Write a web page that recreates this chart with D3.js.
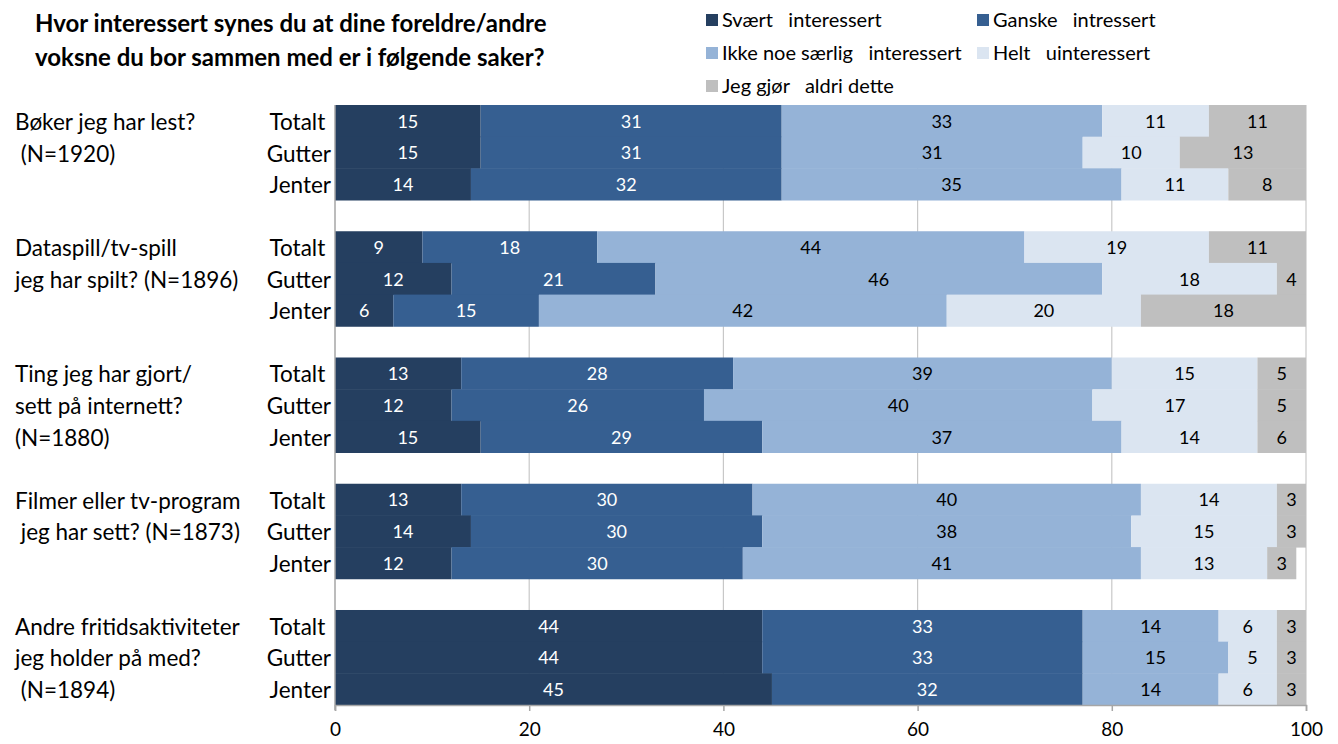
<!DOCTYPE html>
<html>
<head>
<meta charset="utf-8">
<script src="https://cdn.jsdelivr.net/npm/d3@7"></script>
<style>
  html, body { margin: 0; padding: 0; background: #fff; }
  svg { display: block; }
  text { font-family: Lato, "Liberation Sans", Arial, sans-serif; white-space: pre; }
</style>
</head>
<body>
<svg id="chart" width="1338" height="744"></svg>
<script>
// Survey answers in percent, three rows (Totalt, Gutter, Jenter) per question
const questions = [
  ["Bøker jeg har lest?", " (N=1920)"],
  ["Dataspill/tv-spill", "jeg har spilt? (N=1896)"],
  ["Ting jeg har gjort/", "sett på internett?", "(N=1880)"],
  ["Filmer eller tv-program", " jeg har sett? (N=1873)"],
  ["Andre fritidsaktiviteter", "jeg holder på med?", " (N=1894)"]
];
const rowNames = ["Totalt ", "Gutter", "Jenter"];
const seriesNames = [
  "Svært   interessert",
  "Ganske   intressert",
  "Ikke noe særlig   interessert",
  "Helt   uinteressert",
  "Jeg gjør   aldri dette"
];
const svaertInteressert = [15, 15, 14, 9, 12, 6, 13, 12, 15, 13, 14, 12, 44, 44, 45];
const ganskeInteressert = [31, 31, 32, 18, 21, 15, 28, 26, 29, 30, 30, 30, 33, 33, 32];
const ikkeNoeSaerlig   = [33, 31, 35, 44, 46, 42, 39, 40, 37, 40, 38, 41, 14, 15, 14];
const heltUinteressert = [11, 10, 11, 19, 18, 20, 15, 17, 14, 14, 15, 13, 6, 5, 6];
const gjorAldriDette   = [11, 13, 8, 11, 4, 18, 5, 5, 6, 3, 3, 3, 3, 3, 3];
const xTicks = [0, 20, 40, 60, 80, 100];

const seriesValues = [svaertInteressert, ganskeInteressert, ikkeNoeSaerlig, heltUinteressert, gjorAldriDette];
const colors = ["#253f60", "#365f91", "#95b3d7", "#dbe5f1", "#bfbfbf"];
const labelColors = ["#ffffff", "#ffffff", "#000000", "#000000", "#000000"];

const svg = d3.select("#chart");

const x = d3.scaleLinear().domain([0, 100]).range([335, 1306]);
const yGroup = d3.scaleBand()
  .domain(d3.range(questions.length))
  .range([105, 705])
  .paddingInner(0.2475)
  .paddingOuter(0);
const yRow = d3.scaleBand().domain(d3.range(rowNames.length)).range([0, yGroup.bandwidth()]);

// Build rows with stacked segments
const rows = [];
questions.forEach((q, gi) => {
  rowNames.forEach((r, ri) => {
    const idx = gi * rowNames.length + ri;
    let acc = 0;
    const segs = seriesValues.map((vals, si) => {
      const s = { si, v: vals[idx], x0: acc, x1: acc + vals[idx] };
      acc += vals[idx];
      return s;
    });
    rows.push({ gi, ri, y: yGroup(gi) + yRow(ri), h: yRow.bandwidth(), segs });
  });
});

// Gridlines
svg.append("g").selectAll("line")
  .data(xTicks.slice(1))
  .join("line")
  .attr("x1", d => x(d)).attr("x2", d => x(d))
  .attr("y1", 105).attr("y2", 705)
  .attr("stroke", "#c8c8c8").attr("stroke-width", 1.2);

// Bars, clipped to the 0-100 range
svg.append("clipPath").attr("id", "plotClip")
  .append("rect").attr("x", x(0)).attr("y", 0).attr("width", x(100) - x(0)).attr("height", 744);

const barG = svg.append("g").attr("clip-path", "url(#plotClip)");
rows.forEach(row => {
  barG.selectAll(null)
    .data(row.segs)
    .join("rect")
    .attr("x", d => x(d.x0))
    .attr("y", row.y)
    .attr("width", d => x(d.x1) - x(d.x0))
    .attr("height", row.h + 0.5)
    .attr("fill", d => colors[d.si]);
});

// Value labels
const labelG = svg.append("g");
rows.forEach(row => {
  labelG.selectAll(null)
    .data(row.segs)
    .join("text")
    .attr("x", d => (x(d.x0) + x(Math.min(d.x1, 100))) / 2)
    .attr("y", row.y + row.h / 2)
    .attr("dy", "0.38em")
    .attr("text-anchor", "middle")
    .attr("font-size", 18)
    .attr("fill", d => labelColors[d.si])
    .text(d => d.v);
});

// Left axis line
svg.append("line")
  .attr("x1", x(0)).attr("x2", x(0)).attr("y1", 105).attr("y2", 710)
  .attr("stroke", "#a6a6a6").attr("stroke-width", 1.5);

// Bottom axis
const xAxis = d3.axisBottom(x).tickValues(xTicks).tickSize(6).tickPadding(12);
const axG = svg.append("g").attr("transform", "translate(0,705)").call(xAxis);
axG.select(".domain").attr("stroke", "#a6a6a6").attr("stroke-width", 1.5);
axG.selectAll(".tick line").attr("stroke", "#a6a6a6").attr("stroke-width", 1.5);
axG.selectAll(".tick text")
  .attr("font-family", "Lato, Liberation Sans, Arial, sans-serif")
  .attr("font-size", 19).attr("fill", "#000");

// Row names
rows.forEach(row => {
  svg.append("text")
    .attr("x", 331)
    .attr("y", row.y + row.h / 2)
    .attr("dy", "0.4em")
    .attr("text-anchor", "end")
    .attr("font-size", 22.5)
    .attr("fill", "#000")
    .text(rowNames[row.ri]);
});

// Question labels, one line per row
questions.forEach((lines, gi) => {
  svg.append("g").selectAll("text")
    .data(lines)
    .join("text")
    .attr("x", 15)
    .attr("y", (d, i) => yGroup(gi) + yRow(i) + yRow.bandwidth() / 2)
    .attr("dy", "0.4em")
    .attr("font-size", 22.5)
    .attr("fill", "#000")
    .text(d => d);
});

// Title
svg.append("g").selectAll("text")
  .data(["Hvor interessert synes du at dine foreldre/andre", "voksne du bor sammen med er i følgende saker?"])
  .join("text")
  .attr("x", 35)
  .attr("y", (d, i) => 23 + i * 34)
  .attr("dy", "0.36em")
  .attr("font-size", 24)
  .attr("font-weight", "bold")
  .attr("fill", "#000")
  .text(d => d);

// Legend
const legendPos = [[706, 20], [977, 20], [706, 53], [977, 53], [706, 86]];
const legend = svg.append("g").selectAll("g")
  .data(seriesNames)
  .join("g")
  .attr("transform", (d, i) => `translate(${legendPos[i][0]},${legendPos[i][1]})`);
legend.append("rect")
  .attr("x", 0).attr("y", -6).attr("width", 12).attr("height", 12)
  .attr("fill", (d, i) => colors[i]);
legend.append("text")
  .attr("x", 16).attr("y", 0).attr("dy", "0.36em")
  .attr("font-size", 20)
  .attr("fill", "#000")
  .text(d => d);
</script>
</body>
</html>
